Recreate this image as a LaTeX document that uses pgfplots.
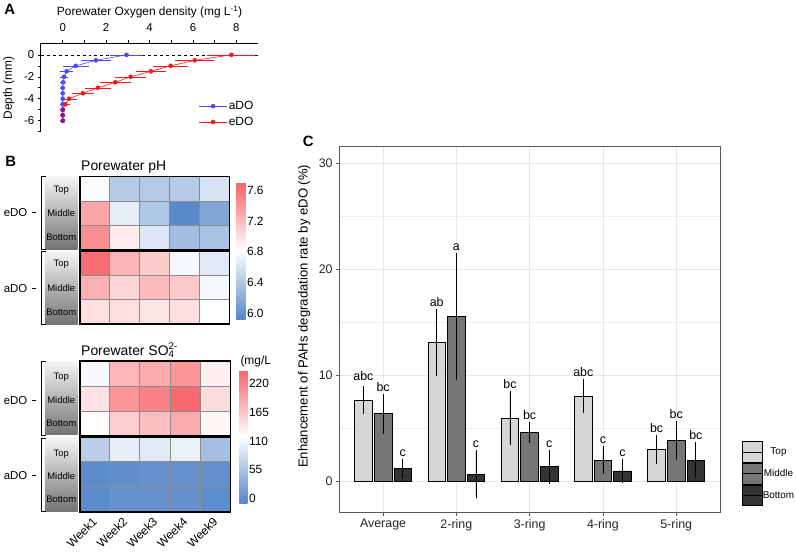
\documentclass[border=0pt]{standalone}
\usepackage{pgfplots}
\pgfplotsset{compat=1.18}
\usepackage{fontspec}
\setmainfont{Liberation Sans}
\pgfplotsset{/pgf/number format/assume math mode=true}
\definecolor{aBlue}{RGB}{75,75,250}
\definecolor{eRed}{RGB}{250,25,25}
\definecolor{pur}{RGB}{130,20,180}
\definecolor{cTop}{RGB}{214,214,214}
\definecolor{cMid}{RGB}{118,118,118}
\definecolor{cBot}{RGB}{52,52,52}
\definecolor{gridc}{RGB}{232,232,232}
\definecolor{cellb}{RGB}{140,140,140}
\newcommand{\fs}[1]{\fontsize{#1}{#1}\selectfont}
\begin{document}
\begin{tikzpicture}
\path (0,0) rectangle (796bp,-553bp);

% ---------------- Panel A ----------------
\begin{axis}[
  at={(39bp,-132bp)}, anchor=south west,
  scale only axis, width=218bp, height=89bp,
  xmin=-1.01, xmax=9.01, ymin=-7, ymax=1.09,
  axis x line=top, axis y line=left,
  axis line style={-, line width=0.6bp},
  xtick={0,2,4,6,8}, minor xtick={1,3,5,7},
  ytick={-6,-4,-2,0}, minor ytick={-7,-5,-3,-1},
  tick style={black, line width=0.6bp},
  major tick length=3bp, minor tick length=3bp,
  tick align=outside,
  ticklabel style={font=\fs{11.5}},
  xticklabel style={yshift=5bp},
  clip=false,
  legend style={at={(0.985,0.035)}, anchor=south east, draw=none, fill=none,
     font=\fs{12}, row sep=3bp, inner sep=0pt, nodes={inner sep=1.5bp}},
  legend image code/.code={\draw[#1] (0bp,0bp) -- (28bp,0bp); \draw[#1, mark=*] plot coordinates {(14bp,0bp)};},
]
\addplot[forget plot, black, dashed, line width=0.6bp] coordinates {(-1.01,0) (9.01,0)};
\addplot[color=aBlue, line width=0.6bp, mark=*, mark size=2bp,
  error bars/.cd, x dir=both, x explicit,
  error bar style={color=aBlue, line width=0.5bp},
  error mark options={color=aBlue, line width=0.5bp, mark size=2.3bp}]
  coordinates {
  (2.94,0) +- (0.67,0)
  (1.53,-0.5) +- (0.57,0)
  (0.6,-1) +- (0.5,0)
  (0.18,-1.5) +- (0.2,0)
  (0.06,-2) +- (0.08,0)
  (0.02,-2.5) +- (0.03,0)
  (0,-3) +- (0.02,0)
  (0,-3.5) +- (0,0)
  (0,-4) +- (0,0)
  (0,-4.5) +- (0,0)
  (0,-5) +- (0,0)
  (0,-5.5) +- (0,0)
  (0,-6) +- (0,0)
  };
\addlegendentry{aDO}
\addplot[color=eRed, line width=0.6bp, mark=*, mark size=2bp,
  error bars/.cd, x dir=both, x explicit,
  error bar style={color=eRed, line width=0.5bp},
  error mark options={color=eRed, line width=0.5bp, mark size=2.3bp}]
  coordinates {
  (7.77,0) +- (1.0,0)
  (6.08,-0.5) +- (0.78,0)
  (4.97,-1) +- (0.7,0)
  (4.06,-1.5) +- (0.6,0)
  (3.13,-2) +- (0.6,0)
  (2.42,-2.5) +- (0.6,0)
  (1.62,-3) +- (0.48,0)
  (0.93,-3.5) +- (0.4,0)
  (0.29,-4) +- (0.27,0)
  (0.12,-4.5) +- (0.12,0)
  (0,-5) +- (0,0)
  (0,-5.5) +- (0,0)
  (0,-6) +- (0,0)
  };
\addlegendentry{eDO}
\addplot[forget plot, only marks, color=pur, mark=*, mark size=2bp] coordinates {(0,-5) (0,-5.5) (0,-6)};
\end{axis}
\node[font=\bfseries\fs{15}] at (8bp,-9bp) {A};
\node[font=\fs{12}] at (148bp,-12bp) {Porewater Oxygen density (mg L\textsuperscript{-1})};
\node[font=\fs{12}, rotate=90] at (7bp,-88bp) {Depth (mm)};

% ---------------- Panel B: pH ----------------
\node[font=\bfseries\fs{15}] at (9bp,-162bp) {B};
\node[font=\fs{14}, anchor=base west] at (76bp,-171bp) {Porewater pH};
\begin{axis}[
  at={(78bp,-325bp)}, anchor=south west,
  scale only axis, width=150bp, height=148bp,
  xmin=-0.5, xmax=4.5, ymin=-0.5, ymax=5.5, y dir=reverse,
  xtick=\empty, ytick=\empty,
  axis on top,
  axis line style={line width=1.6bp},
  colormap={pHmap}{rgb255=(84,134,200) rgb255=(255,255,255) rgb255=(248,100,105)},
  point meta min=5.92, point meta max=7.70,
  colorbar,
  colorbar style={
    scale only axis, width=9bp, height=137bp,
    at={(parent axis.north east)}, anchor=north west, xshift=-1.5bp, yshift=-6bp,
    ytick={6,6.4,6.8,7.2,7.6},
    axis line style={draw=none}, major tick length=0pt, grid=none,
    yticklabel style={font=\fs{12}, inner sep=1.5bp, /pgf/number format/.cd, fixed, precision=1, fixed zerofill},
  },
]
\addplot[matrix plot*, mesh/cols=5, point meta=explicit] table[meta=c] {
x y c
0 0 6.78
1 0 6.42
2 0 6.42
3 0 6.43
4 0 6.60
0 1 7.32
1 1 6.68
2 1 6.40
3 1 5.95
4 1 6.16
0 2 7.45
1 2 6.92
2 2 6.63
3 2 6.33
4 2 6.37
0 3 7.65
1 3 7.24
2 3 7.10
3 3 6.76
4 3 6.65
0 4 7.26
1 4 7.04
2 4 7.20
3 4 7.12
4 4 6.76
0 5 7.00
1 5 7.00
2 5 6.96
3 5 7.00
4 5 6.80
};
\draw[cellb, line width=1bp] (axis cs:0.5,-0.5) -- (axis cs:0.5,5.5);
\draw[cellb, line width=1bp] (axis cs:1.5,-0.5) -- (axis cs:1.5,5.5);
\draw[cellb, line width=1bp] (axis cs:2.5,-0.5) -- (axis cs:2.5,5.5);
\draw[cellb, line width=1bp] (axis cs:3.5,-0.5) -- (axis cs:3.5,5.5);
\draw[cellb, line width=1bp] (axis cs:-0.5,0.5) -- (axis cs:4.5,0.5);
\draw[cellb, line width=1bp] (axis cs:-0.5,1.5) -- (axis cs:4.5,1.5);
\draw[cellb, line width=1bp] (axis cs:-0.5,3.5) -- (axis cs:4.5,3.5);
\draw[cellb, line width=1bp] (axis cs:-0.5,4.5) -- (axis cs:4.5,4.5);
\draw[line width=2.6bp] (axis cs:-0.5,2.5) -- (axis cs:4.5,2.5);
\end{axis}
% row labels pH
\shade[top color=black!4, bottom color=black!55] (43bp,-177bp) rectangle (76bp,-250bp);
\shade[top color=black!4, bottom color=black!55] (43bp,-252bp) rectangle (76bp,-325bp);
\draw[line width=0.8bp] (44bp,-177bp) -- (40bp,-177bp) -- (40bp,-250bp) -- (44bp,-250bp);
\draw[line width=0.8bp] (44bp,-252bp) -- (40bp,-252bp) -- (40bp,-325bp) -- (44bp,-325bp);
\draw[line width=0.8bp] (30bp,-213bp) -- (34bp,-213bp);
\draw[line width=0.8bp] (30bp,-289bp) -- (34bp,-289bp);
\node[font=\fs{11.5}, anchor=east] at (29bp,-213bp) {eDO};
\node[font=\fs{11.5}, anchor=east] at (29bp,-289bp) {aDO};
\node[font=\fs{9.5}] at (59.5bp,-190.5bp) {Top};
\node[font=\fs{9.5}] at (59.5bp,-214bp) {Middle};
\node[font=\fs{9.5}] at (59.5bp,-238bp) {Bottom};
\node[font=\fs{9.5}] at (59.5bp,-265bp) {Top};
\node[font=\fs{9.5}] at (59.5bp,-289bp) {Middle};
\node[font=\fs{9.5}] at (59.5bp,-313bp) {Bottom};

% ---------------- Panel B: SO4 ----------------
\node[font=\fs{14}, anchor=base west] at (76bp,-356bp) {Porewater SO\rlap{\textsubscript{4}}\textsuperscript{2-}};
\node[font=\fs{12}, anchor=west, inner sep=0pt] at (239bp,-362bp) {(mg/L};
\begin{axis}[
  at={(78bp,-513bp)}, anchor=south west,
  scale only axis, width=151bp, height=151bp,
  xmin=-0.5, xmax=4.5, ymin=-0.5, ymax=5.5, y dir=reverse,
  xtick={0,1,2,3,4}, xticklabels={Week1,Week2,Week3,Week4,Week9},
  x tick label style={xshift=-3bp, yshift=-3bp, rotate=45, anchor=north east, font=\fs{12}, inner sep=1bp},
  ytick=\empty, major tick length=0pt,
  axis on top,
  axis line style={line width=1.6bp},
  colormap={so4map}{rgb255=(84,134,200) rgb255=(255,255,255) rgb255=(248,100,105)},
  point meta min=-10, point meta max=245,
  colorbar,
  colorbar style={
    scale only axis, width=8bp, height=134bp,
    at={(parent axis.north east)}, anchor=north west, xshift=0.5bp, yshift=-9bp,
    ytick={0,55,110,165,220},
    axis line style={draw=none}, major tick length=0pt, grid=none,
    yticklabel style={font=\fs{12}, inner sep=1.5bp},
  },
]
\addplot[matrix plot*, mesh/cols=5, point meta=explicit] table[meta=c] {
x y c
0 0 112
1 0 178
2 0 187
3 0 205
4 0 130
0 1 142
1 1 204
2 1 220
3 1 240
4 1 146
0 2 120
1 2 158
2 2 170
3 2 187
4 2 125
0 3 65
1 3 100
2 3 95
3 3 102
4 3 50
0 4 -5
1 4 0
2 4 3
3 4 3
4 4 2
0 5 -5
1 5 3
2 5 3
3 5 2
4 5 -3
};
\draw[cellb, line width=1bp] (axis cs:0.5,-0.5) -- (axis cs:0.5,5.5);
\draw[cellb, line width=1bp] (axis cs:1.5,-0.5) -- (axis cs:1.5,5.5);
\draw[cellb, line width=1bp] (axis cs:2.5,-0.5) -- (axis cs:2.5,5.5);
\draw[cellb, line width=1bp] (axis cs:3.5,-0.5) -- (axis cs:3.5,5.5);
\draw[cellb, line width=1bp] (axis cs:-0.5,0.5) -- (axis cs:4.5,0.5);
\draw[cellb, line width=1bp] (axis cs:-0.5,1.5) -- (axis cs:4.5,1.5);
\draw[cellb, line width=1bp] (axis cs:-0.5,3.5) -- (axis cs:4.5,3.5);
\draw[cellb, line width=1bp] (axis cs:-0.5,4.5) -- (axis cs:4.5,4.5);
\draw[line width=2.6bp] (axis cs:-0.5,2.5) -- (axis cs:4.5,2.5);
\end{axis}
\shade[top color=black!4, bottom color=black!55] (43bp,-362bp) rectangle (76bp,-436bp);
\shade[top color=black!4, bottom color=black!55] (43bp,-439bp) rectangle (76bp,-513bp);
\draw[line width=0.8bp] (44bp,-362bp) -- (40bp,-362bp) -- (40bp,-436bp) -- (44bp,-436bp);
\draw[line width=0.8bp] (44bp,-439bp) -- (40bp,-439bp) -- (40bp,-513bp) -- (44bp,-513bp);
\draw[line width=0.8bp] (30bp,-401.5bp) -- (34bp,-401.5bp);
\draw[line width=0.8bp] (30bp,-476.5bp) -- (34bp,-476.5bp);
\node[font=\fs{11.5}, anchor=east] at (29bp,-401.5bp) {eDO};
\node[font=\fs{11.5}, anchor=east] at (29bp,-476.5bp) {aDO};
\node[font=\fs{9.5}] at (59.5bp,-378bp) {Top};
\node[font=\fs{9.5}] at (59.5bp,-401.5bp) {Middle};
\node[font=\fs{9.5}] at (59.5bp,-424.5bp) {Bottom};
\node[font=\fs{9.5}] at (59.5bp,-455bp) {Top};
\node[font=\fs{9.5}] at (59.5bp,-477bp) {Middle};
\node[font=\fs{9.5}] at (59.5bp,-500bp) {Bottom};

% ---------------- Panel C ----------------
\node[font=\bfseries\fs{15}] at (307bp,-142bp) {C};
\begin{axis}[
  at={(338bp,-514bp)}, anchor=south west,
  scale only axis, width=382bp, height=367bp,
  xmin=0.4, xmax=5.6, ymin=-2.95, ymax=31.6,
  xtick={1,2,3,4,5}, xticklabels={Average,2-ring,3-ring,4-ring,5-ring},
  ytick={0,10,20,30}, minor ytick={5,15,25},
  grid=both, major grid style={draw=gridc, line width=0.8bp},
  minor grid style={draw=gridc!80, line width=0.6bp},
  axis line style={black!65, line width=0.7bp},
  tick style={black!65, line width=0.6bp}, tick align=outside, tick pos=left,
  major tick length=3bp, minor tick length=0pt,
  ticklabel style={font=\fs{12.5}, text=black!85},
  legend style={at={(1.057,0.196)}, anchor=north west, draw=none, fill=none,
     inner sep=0pt, row sep=0pt, nodes={inner sep=0pt, font=\fs{10}},
     /tikz/every even column/.append style={column sep=6bp}},
  legend cell align=center,
]
\addplot[forget plot, ybar, bar width=0.24, bar shift=0pt, fill=cTop, draw=black, line width=0.7bp,
  error bars/.cd, y dir=both, y explicit,
  error bar style={black, line width=0.8bp},
  error mark options={black, line width=0.8bp, mark size=2bp}]
  coordinates {
  (0.732,7.7) +- (0,1.1)
  (1.732,13.1) +- (0,2.95)
  (2.732,6.0) +- (0,2.4)
  (3.732,8.05) +- (0,1.4)
  (4.732,3.0) +- (0,1.2)
  };
\addplot[forget plot, ybar, bar width=0.24, bar shift=0pt, fill=cMid, draw=black, line width=0.7bp,
  error bars/.cd, y dir=both, y explicit,
  error bar style={black, line width=0.8bp},
  error mark options={black, line width=0.8bp, mark size=2bp}]
  coordinates {
  (1,6.4) +- (0,1.7)
  (2,15.6) +- (0,5.8)
  (3,4.65) +- (0,0.8)
  (4,2.03) +- (0,1.15)
  (5,3.9) +- (0,1.65)
  };
\addplot[forget plot, ybar, bar width=0.24, bar shift=0pt, fill=cBot, draw=black, line width=0.7bp,
  error bars/.cd, y dir=both, y explicit,
  error bar style={black, line width=0.8bp},
  error mark options={black, line width=0.8bp, mark size=2bp}]
  coordinates {
  (1.268,1.2) +- (0,0.75)
  (2.268,0.7) +- (0,2.1)
  (3.268,1.4) +- (0,1.4)
  (4.268,1.0) +- (0,0.95)
  (5.268,2.03) +- (0,1.5)
  };
\addplot[forget plot, draw=none, mark=none, nodes near coords, point meta=explicit symbolic,
  nodes near coords style={anchor=base, yshift=4.5bp, font=\fs{12.5}, inner sep=0pt}]
  coordinates {
  (0.732,9.15) [abc] (1,8.1) [bc] (1.268,1.95) [c]
  (1.732,16.05) [ab] (2,21.4) [a] (2.268,2.8) [c]
  (2.732,8.4) [bc] (3,5.45) [bc] (3.268,2.8) [c]
  (3.732,9.45) [abc] (4,3.18) [c] (4.268,1.95) [c]
  (4.732,4.2) [bc] (5,5.55) [bc] (5.268,3.53) [bc]
  };
\addlegendimage{legend image code/.code={\draw[fill=cTop, draw=black, line width=0.7bp] (0bp,-10.5bp) rectangle (20bp,10.5bp); \draw[line width=0.7bp] (0bp,0bp) -- (20bp,0bp);}}
\addlegendentry{Top}
\addlegendimage{legend image code/.code={\draw[fill=cMid, draw=black, line width=0.7bp] (0bp,-10.5bp) rectangle (20bp,10.5bp); \draw[line width=0.7bp] (0bp,0bp) -- (20bp,0bp);}}
\addlegendentry{Middle}
\addlegendimage{legend image code/.code={\draw[fill=cBot, draw=black, line width=0.7bp] (0bp,-10.5bp) rectangle (20bp,10.5bp); \draw[line width=0.7bp] (0bp,0bp) -- (20bp,0bp);}}
\addlegendentry{Bottom}
\end{axis}
\node[font=\fs{13.2}, rotate=90] at (303bp,-317bp) {Enhancement of PAHs degradation rate by eDO (\%)};
\end{tikzpicture}
\end{document}
